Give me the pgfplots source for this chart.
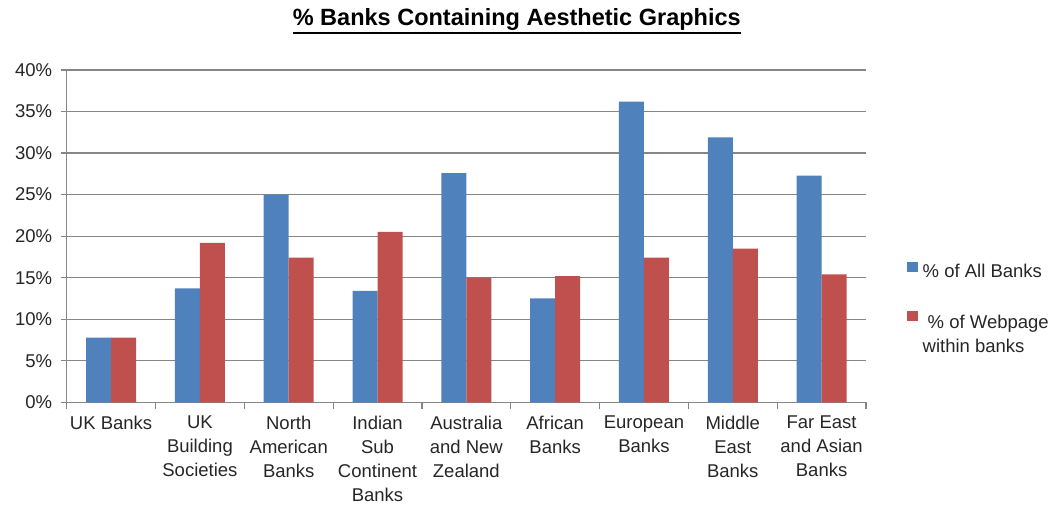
\documentclass[border=0pt]{standalone}
\usepackage{fontspec}
\setmainfont{Liberation Sans}
\usepackage{pgfplots}
\pgfplotsset{compat=1.18}
\definecolor{xlblue}{HTML}{4F81BD}
\definecolor{xlred}{HTML}{C0504D}
\definecolor{xlgrid}{HTML}{868686}
% title underline: rule under the box, below the descenders
\newcommand\ulbox[1]{\vtop{\hbox{#1}\kern1.2pt\hrule height 2.6pt}}
\newcommand\lblfont{\fontsize{18.5}{24}\selectfont}

\begin{document}
\begin{tikzpicture}
\begin{axis}[
    at={(66.7pt,108.7pt)}, anchor=south west,
    scale only axis, width=799.3pt, height=332.3pt,
    ybar=0pt, bar width=25pt,
    xmin=-0.5, xmax=8.5, ymin=0, ymax=40,
    axis x line*=bottom, axis y line*=left,
    axis line style={xlgrid, line width=1.2pt},
    tick align=outside,
    xtick={0,...,8},
    xticklabels={UK Banks, {UK\\Building\\Societies}, {North\\American\\Banks},
        {Indian\\Sub\\Continent\\Banks}, {Australia\\and New\\Zealand},
        {African\\Banks}, {European\\Banks}, {Middle\\East\\Banks},
        {Far East\\and Asian\\Banks}},
    minor xtick={-0.5,0.5,...,8.5},
    major x tick style={draw=none},
    minor x tick style={xlgrid, line width=1.2pt},
    minor tick length=7pt,
    ytick={0,5,...,40},
    yticklabels={0\%,5\%,10\%,15\%,20\%,25\%,30\%,35\%,40\%},
    major y tick style={xlgrid, line width=1.2pt},
    major tick length=6pt,
    ymajorgrids, major grid style={xlgrid, line width=1.2pt},
    xticklabel style={font=\lblfont, align=center, anchor=north, yshift=-4pt},
    yticklabel style={font=\lblfont, text=black!85, xshift=-5pt},
    xticklabel style={text=black!85},
    title={\ulbox{\% Banks Containing Aesthetic Graphics}},
    title style={at={(0.5631,1)}, anchor=base, yshift=38.3pt,
        font=\fontsize{23.5}{28}\selectfont\bfseries},
    legend style={at={(1.0513,0.32)}, anchor=west, draw=none, fill=none,
        font=\lblfont, text=black!85, row sep=32pt, inner sep=0pt,
        nodes={inner xsep=4.5pt, inner ysep=0pt}},
    legend cell align=left,
    legend image code/.code={\fill[#1] (0pt,0pt) rectangle (11pt,10pt);},
]
\addplot[fill=xlblue, draw=none] coordinates {
    (0,7.8) (1,13.7) (2,25.0) (3,13.4) (4,27.6)
    (5,12.5) (6,36.2) (7,31.9) (8,27.3)};
\addlegendentry{\% of All Banks}
\addplot[fill=xlred, draw=none] coordinates {
    (0,7.8) (1,19.2) (2,17.4) (3,20.5) (4,15.0)
    (5,15.2) (6,17.4) (7,18.5) (8,15.4)};
\addlegendentry{\begin{tabular}[t]{@{}l@{}} \hspace{5pt}\% of Webpage\\within banks\end{tabular}}
\end{axis}
\pgfresetboundingbox
\path (0,0) rectangle (1062pt,511pt);
\end{tikzpicture}
\end{document}
